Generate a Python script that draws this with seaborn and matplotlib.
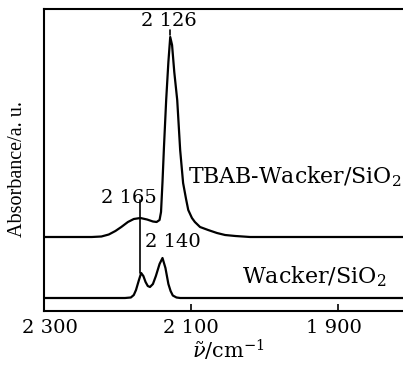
import numpy as np
import pandas as pd
import matplotlib
matplotlib.use("Agg")
import matplotlib.pyplot as plt
import matplotlib.transforms as mtransforms
import seaborn as sns

# ---- data (wavenumber in cm-1, absorbance in a.u.) ----
tbab_wn = [2300, 2235, 2222, 2212, 2203, 2195, 2186, 2178, 2169, 2160, 2152, 2147,
           2143, 2141, 2139, 2137, 2134, 2131, 2128.5, 2126, 2123, 2119, 2115, 2111,
           2107, 2104, 2099, 2095, 2088, 2077, 2065, 2054, 2040, 2020, 1800]
tbab_abs = [0, 0, 0.5, 2.5, 6, 10, 15, 18, 19, 17.5, 15.5, 15,
            17, 25, 55, 90, 137, 175, 200, 192, 165, 137, 87, 54,
            38, 27, 19, 15, 10, 7, 4, 2, 1, 0, 0]

wacker_wn = [2300, 2190, 2182, 2178, 2175, 2171, 2168, 2165, 2162, 2159, 2156, 2152,
             2148, 2143, 2139, 2135, 2131, 2128, 2125, 2120, 2115, 1800]
wacker_abs = [0, 0, 0.5, 3, 8, 18, 25, 22, 16, 12, 11, 14,
              22, 34, 40, 30, 14, 7, 2.5, 0.5, 0, 0]

series_names = ["TBAB-Wacker/SiO$_2$", "Wacker/SiO$_2$"]
series_offsets = [74, 13]

peak_labels = ["2 126", "2 165", "2 140"]
x_ticks = [2300, 2100, 1900]
x_ticklabels = ["2 300", "2 100", "1 900"]

# ---- build long table ----
frames = []
for name, wn, ab, off in [(series_names[0], tbab_wn, tbab_abs, series_offsets[0]),
                          (series_names[1], wacker_wn, wacker_abs, series_offsets[1])]:
    frames.append(pd.DataFrame({"wn": wn, "A": np.array(ab) + off, "series": name}))
df = pd.concat(frames, ignore_index=True)

sns.set_style("white")
plt.rcParams["font.family"] = ["DejaVu Serif"]
plt.rcParams["mathtext.fontset"] = "dejavuserif"
plt.rcParams["text.color"] = "black"
plt.rcParams["axes.labelcolor"] = "black"
plt.rcParams["xtick.color"] = "black"

W, H = 403, 365
fig = plt.figure(figsize=(W / 100, H / 100), dpi=100)
ax = fig.add_axes([44 / W, (H - 311) / H, 368 / W, 302 / H])

sns.lineplot(data=df, x="wn", y="A", hue="series", palette=["black", "black"],
             estimator=None, sort=False, legend=False, linewidth=1.6, ax=ax)

ax.set_xlim(2300, 1800)
ax.set_ylim(0, 302)
ax.set_yticks([])
ax.set_xticks(x_ticks)
ax.set_xticklabels(x_ticklabels, fontsize=14, color="black")
ax.tick_params(axis="x", direction="in", length=5, width=1.2, pad=6, bottom=True, top=False)
labs = ax.get_xticklabels()
labs[0].set_transform(labs[0].get_transform() +
                      mtransforms.ScaledTranslation(6 / 100, 0, fig.dpi_scale_trans))
labs[2].set_transform(labs[2].get_transform() +
                      mtransforms.ScaledTranslation(-4 / 100, 0, fig.dpi_scale_trans))
for s in ax.spines.values():
    s.set_linewidth(1.5)
    s.set_color("black")

ax.set_xlabel(r"$\tilde{\nu}$/cm$^{-1}$", fontsize=15, labelpad=0, color="black")
ax.set_ylabel("Absorbance/a. u.", fontsize=14.5, family="Liberation Serif", color="black")
ax.yaxis.set_label_coords(-0.045, 0.47)

# peak markers
ax.plot([2128.5, 2128.5], [281, 276], color="black", lw=1.2)
ax.plot([2169, 2169], [111, 38], color="black", lw=1.2)

ax.text(2130, 290, peak_labels[0], ha="center", va="center", fontsize=14, color="black")
ax.text(2185, 113, peak_labels[1], ha="center", va="center", fontsize=14, color="black")
ax.text(2125, 69, peak_labels[2], ha="center", va="center", fontsize=14, color="black")

ax.text(2104, 134, series_names[0], ha="left", va="center", fontsize=15.8, color="black")
ax.text(2031, 34, series_names[1], ha="left", va="center", fontsize=16, color="black")

fig.savefig("out.png", dpi=100)
